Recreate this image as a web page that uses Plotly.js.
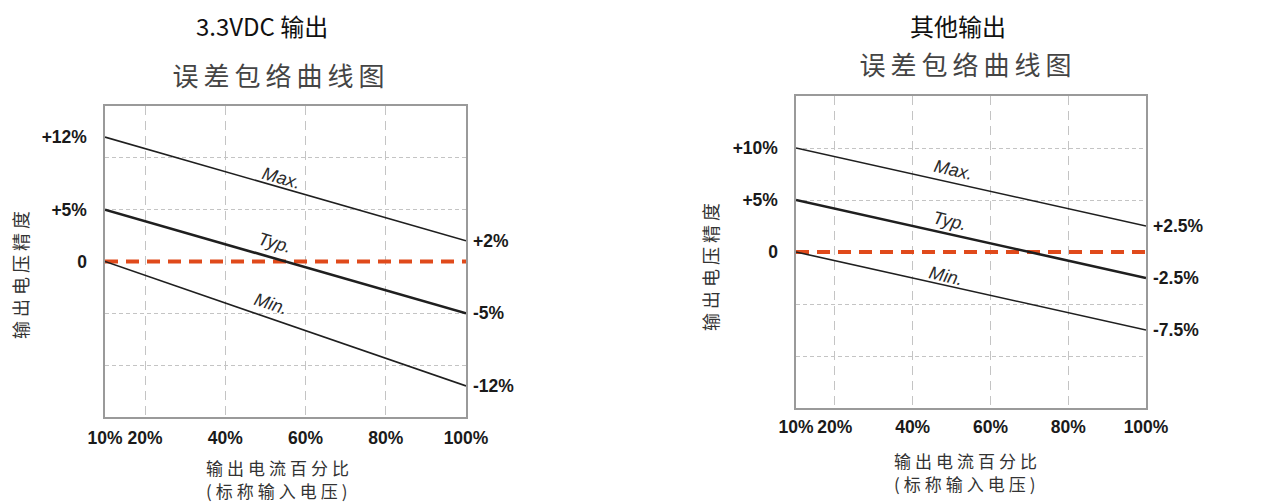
<!DOCTYPE html>
<html>
<head>
<meta charset="utf-8">
<script src="https://cdn.plot.ly/plotly-3.0.1.min.js"></script>
<style>
html,body{margin:0;padding:0;background:#fff;}
#chart{width:1275px;height:502px;}
</style>
</head>
<body>
<div id="chart"></div>
<script>
// ---- data ----
const loadPct = [10, 100];                 // output current % (x)
// 3.3VDC output
const a_max = [12, 2];
const a_typ = [5, -5];
const a_min = [0, -12];
const a_ref = [0, 0];
// other outputs
const b_max = [10, 2.5];
const b_typ = [5, -2.5];
const b_min = [0, -7.5];
const b_ref = [0, 0];

const xTickVals = [10, 20, 40, 60, 80, 100];
const xTickText = ['10%', '20%', '40%', '60%', '80%', '100%'];
const gridVals = [-10, -5, 5, 10];

const a_leftVals = [12, 5, 0];
const a_leftText = ['+12%', '+5%', '0'];
const a_rightVals = [2, -5, -12];
const a_rightText = ['+2%', '-5%', '-12%'];
const b_leftVals = [10, 5, 0];
const b_leftText = ['+10%', '+5%', '0'];
const b_rightVals = [2.5, -2.5, -7.5];
const b_rightText = ['+2.5%', '-2.5%', '-7.5%'];

const titles = ['3.3VDC 输出', '其他输出'];
const subTitle = '误差包络曲线图';
const yTitle = '输出电压精度';
const xTitle1 = '输出电流百分比';
const xTitle2 = '(标称输入电压)';
const curveNames = ['Max.', 'Typ.', 'Min.'];

// ---- styles ----
const FONT = 'Liberation Sans, Arial, sans-serif';
const CJK = 'Noto Sans CJK SC, sans-serif';
const lineCol = '#1f1f1f';
const refCol = '#e04a1b';
const gridCol = '#c4c4c4';
const boxCol = '#9a9a9a';

function lineTrace(y, xa, ya, w) {
  return {x: loadPct, y: y, xaxis: xa, yaxis: ya, mode: 'lines', type: 'scatter',
    line: {color: lineCol, width: w}, hoverinfo: 'skip', showlegend: false};
}
function refTrace(y, xa, ya) {
  return {x: loadPct, y: y, xaxis: xa, yaxis: ya, mode: 'lines', type: 'scatter',
    line: {color: refCol, width: 4, dash: '13px,8px'}, hoverinfo: 'skip', showlegend: false};
}
// invisible carrier so the overlaying (label / grid) axes get drawn
function carrier(y, xa, ya) {
  return {x: loadPct, y: y, xaxis: xa, yaxis: ya, mode: 'lines', type: 'scatter',
    line: {color: 'rgba(0,0,0,0)', width: 0}, opacity: 0, hoverinfo: 'skip', showlegend: false};
}

const traces = [
  carrier(a_ref, 'x', 'y3'),
  carrier(a_ref, 'x', 'y2'),
  refTrace(a_ref, 'x', 'y'),
  lineTrace(a_max, 'x', 'y', 1.6),
  lineTrace(a_typ, 'x', 'y', 2.6),
  lineTrace(a_min, 'x', 'y', 1.6),
  carrier(b_ref, 'x2', 'y6'),
  carrier(b_ref, 'x2', 'y5'),
  refTrace(b_ref, 'x2', 'y4'),
  lineTrace(b_max, 'x2', 'y4', 1.6),
  lineTrace(b_typ, 'x2', 'y4', 2.6),
  lineTrace(b_min, 'x2', 'y4', 1.6)
];

const tickFont = {family: FONT, size: 17.5, color: '#1a1a1a', weight: 'bold'};

function xAxis(domain, anchor, standoff) {
  return {domain: domain, anchor: anchor, range: [10, 100], tickmode: 'array',
    tickvals: xTickVals, ticktext: xTickText, tickfont: tickFont,
    showgrid: true, gridcolor: gridCol, griddash: '9px,6px', gridwidth: 1.2,
    showline: true, linecolor: boxCol, linewidth: 1.6, mirror: true,
    zeroline: false, ticks: '', ticklabelstandoff: standoff, fixedrange: true};
}
function yMain(domain, anchor, vals, text) {
  return {domain: domain, anchor: anchor, range: [-15, 15], tickmode: 'array',
    tickvals: vals, ticktext: text, tickfont: tickFont, showgrid: false,
    showline: true, linecolor: boxCol, linewidth: 1.6, mirror: true,
    zeroline: false, ticks: '', ticklabelstandoff: 13, fixedrange: true};
}
function yRight(over, anchor, vals, text) {
  return {overlaying: over, anchor: anchor, side: 'right', range: [-15, 15],
    tickmode: 'array', tickvals: vals, ticktext: text, tickfont: tickFont,
    showgrid: false, showline: false, zeroline: false, ticks: '',
    ticklabelstandoff: 6, fixedrange: true};
}
function yGrid(over, anchor) {
  return {overlaying: over, anchor: anchor, range: [-15, 15], tickmode: 'array',
    tickvals: gridVals, showticklabels: false, showgrid: true, gridcolor: gridCol,
    griddash: '4px,3px', gridwidth: 1, zeroline: false, showline: false, ticks: '',
    fixedrange: true};
}

const txtGray = '#333';
function ann(text, x, y, size, color, extra) {
  return Object.assign({text: text, x: x, y: y, xref: 'paper', yref: 'paper',
    showarrow: false, font: {family: CJK, size: size, color: color},
    xanchor: 'center', yanchor: 'middle'}, extra || {});
}
function curveLabel(text, x, y, xa, ya, ang) {
  return {text: '<i>' + text + '</i>', x: x, y: y, xref: xa, yref: ya, showarrow: false,
    textangle: ang, font: {family: FONT, size: 18, color: '#2a2a2a'},
    xanchor: 'center', yanchor: 'middle'};
}

const annotations = [
  // left chart
  ann(titles[0], 262 / 1275, 1 - 26 / 502, 24, '#111'),
  ann(subTitle, 281 / 1275, 1 - 75 / 502, 26, '#444'),
  ann(yTitle, 20 / 1275, 1 - 273 / 502, 18, txtGray, {textangle: -90}),
  ann(xTitle1, 279 / 1275, 1 - 467 / 502, 17, txtGray),
  ann(xTitle2, 279 / 1275, 1 - 490 / 502, 17, txtGray),
  curveLabel(curveNames[0], 54, 8.1, 'x', 'y', 16),
  curveLabel(curveNames[1], 52.5, 1.8, 'x', 'y', 16),
  curveLabel(curveNames[2], 51.5, -4.1, 'x', 'y', 18),
  // right chart
  ann(titles[1], 958 / 1275, 1 - 26 / 502, 24, '#111'),
  ann(subTitle, 968 / 1275, 1 - 63 / 502, 26, '#444'),
  ann(yTitle, 710 / 1275, 1 - 265 / 502, 18, txtGray, {textangle: -90}),
  ann(xTitle1, 967 / 1275, 1 - 460 / 502, 17, txtGray),
  ann(xTitle2, 967 / 1275, 1 - 483 / 502, 17, txtGray),
  curveLabel(curveNames[0], 50.5, 7.9, 'x2', 'y4', 13),
  curveLabel(curveNames[1], 49.5, 3.0, 'x2', 'y4', 13),
  curveLabel(curveNames[2], 48.5, -2.3, 'x2', 'y4', 13)
];

const layout = {
  width: 1275, height: 502,
  margin: {l: 0, r: 0, t: 0, b: 0},
  paper_bgcolor: '#fff', plot_bgcolor: 'rgba(0,0,0,0)',
  showlegend: false,
  xaxis: xAxis([105 / 1275, 466 / 1275], 'y', 4),
  yaxis: yMain([1 - 417 / 502, 1 - 106 / 502], 'x', a_leftVals, a_leftText),
  yaxis2: yRight('y', 'x', a_rightVals, a_rightText),
  yaxis3: yGrid('y', 'x'),
  xaxis2: xAxis([796 / 1275, 1146 / 1275], 'y4', 2),
  yaxis4: yMain([1 - 408 / 502, 1 - 96 / 502], 'x2', b_leftVals, b_leftText),
  yaxis5: yRight('y4', 'x2', b_rightVals, b_rightText),
  yaxis6: yGrid('y4', 'x2'),
  annotations: annotations
};

Plotly.newPlot('chart', traces, layout, {staticPlot: true, displayModeBar: false}).then(function () {
  // widen CJK character spacing like the original artwork
  document.querySelectorAll('.annotation-text').forEach(function (t) {
    const s = t.textContent;
    if (s === subTitle) t.setAttribute('letter-spacing', '5px');
    else if (s === yTitle) t.setAttribute('letter-spacing', '4px');
    else if (s === xTitle1 || s === xTitle2) t.setAttribute('letter-spacing', '4px');
  });
});
</script>
</body>
</html>
